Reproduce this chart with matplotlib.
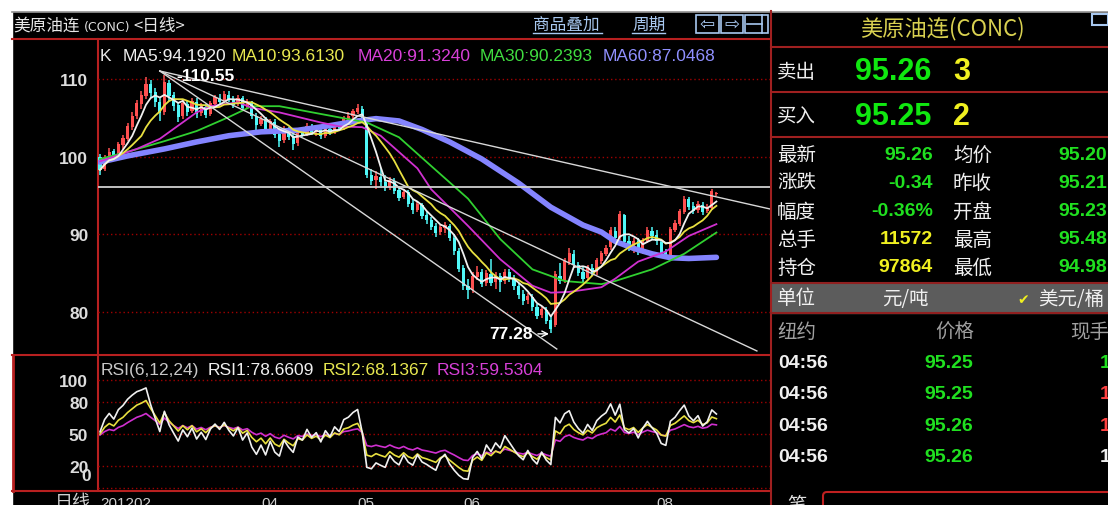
import numpy as np
import pandas as pd
import matplotlib
matplotlib.use('Agg')
import matplotlib.pyplot as plt
from matplotlib.patches import Rectangle, FancyBboxPatch

plt.rcParams['font.family'] = ['Liberation Sans', 'Noto Sans CJK SC', 'DejaVu Sans']

# ---------------- data ----------------
opens = [99.9, 98.4, 99.6, 100.7, 100.3, 101.5, 102.3, 103.8, 105.2, 106.8,
         107.8, 109.3, 108.3, 107.1, 105.7, 109.5, 107.9, 106.6, 105.2, 106.8,
         105.9, 107.1, 105.6, 106.4, 105.5, 106.8, 107.6, 107.2, 108.0, 107.4,
         106.8, 107.5, 106.4, 106.9, 105.2, 104.2, 104.8, 103.4, 104.5, 102.9,
         102.1, 103.5, 102.6, 101.7, 103.1, 102.9, 103.9, 103.2, 103.5, 102.7,
         103.6, 103.2, 104.0, 103.8, 104.9, 105.2, 105.8, 106.2, 104.7, 97.7,
         97.0, 97.4, 96.8, 96.1, 96.9, 95.7, 94.8, 95.4, 94.0, 93.2,
         93.8, 92.5, 91.9, 91.1, 90.3, 90.8, 91.1, 89.6, 87.9, 85.7,
         83.4, 82.9, 84.5, 85.1, 83.7, 84.9, 83.9, 84.6, 84.0, 85.1,
         84.4, 83.4, 82.3, 81.5, 82.0, 80.7, 79.6, 80.3, 79.0, 78.4,
         84.7, 84.1, 86.5, 87.5, 86.1, 85.1, 84.4, 85.7, 85.1, 86.6,
         87.5, 88.4, 90.5, 89.6, 92.5, 89.1, 88.5, 89.1, 87.8, 89.2,
         90.5, 89.9, 89.0, 87.7, 87.4, 90.6, 91.4, 92.9, 94.5, 93.6,
         93.1, 93.8, 93.0, 93.4, 95.23]
highs = [100.3, 100.2, 101.1, 101.0, 101.9, 102.8, 104.4, 105.8, 107.3, 108.4,
         110.2, 109.9, 108.9, 107.6, 110.55, 109.9, 108.3, 107.0, 107.4, 107.2,
         107.6, 107.5, 106.9, 106.8, 107.2, 108.0, 108.1, 108.5, 108.4, 107.8,
         108.0, 107.8, 107.4, 107.2, 105.6, 105.3, 105.1, 104.9, 104.8, 103.3,
         103.9, 103.8, 103.0, 103.5, 103.6, 104.3, 104.2, 103.9, 103.8, 104.0,
         104.0, 104.4, 104.5, 105.3, 105.7, 106.2, 106.8, 106.5, 105.0, 98.4,
         98.1, 98.6, 97.7, 97.4, 97.3, 96.2, 95.9, 95.7, 94.5, 94.2,
         94.1, 93.0, 92.3, 91.5, 91.2, 91.6, 91.4, 90.0, 88.3, 86.1,
         84.2, 85.1, 85.9, 85.5, 85.4, 86.8, 85.1, 85.0, 85.6, 85.5,
         84.8, 83.8, 82.8, 82.5, 82.3, 81.1, 80.8, 80.6, 79.6, 85.3,
         86.3, 87.0, 88.2, 88.0, 86.5, 85.8, 86.1, 86.2, 87.0, 87.9,
         88.7, 90.9, 91.0, 93.0, 92.6, 89.8, 89.6, 89.5, 89.6, 91.0,
         90.9, 90.6, 89.4, 88.1, 91.0, 91.9, 93.3, 95.0, 94.8, 94.2,
         94.3, 94.2, 93.9, 95.9, 95.48]
lows = [97.6, 98.1, 99.3, 99.8, 100.0, 101.0, 102.0, 103.4, 104.8, 106.2,
        107.4, 107.6, 106.4, 104.6, 105.4, 107.2, 105.9, 104.5, 104.9, 105.3,
        105.6, 105.0, 105.2, 105.0, 105.2, 106.5, 106.7, 106.9, 107.0, 106.3,
        106.5, 105.9, 106.1, 104.9, 103.5, 103.9, 102.9, 103.1, 102.4, 101.2,
        101.8, 102.2, 100.8, 101.4, 102.5, 102.6, 102.8, 102.7, 102.3, 102.4,
        102.8, 102.9, 103.4, 103.5, 104.5, 104.9, 105.5, 104.5, 97.2, 96.4,
        95.9, 96.2, 95.6, 95.7, 95.2, 94.3, 94.5, 93.5, 92.6, 92.9,
        92.0, 91.3, 90.6, 89.7, 89.9, 90.2, 89.1, 87.4, 85.2, 82.9,
        81.7, 82.5, 84.1, 83.2, 83.4, 83.3, 83.0, 82.6, 83.6, 83.9,
        82.9, 81.7, 80.9, 81.1, 80.2, 79.1, 79.2, 78.5, 77.28, 78.1,
        83.6, 83.8, 86.0, 85.7, 84.6, 83.9, 84.1, 84.6, 84.8, 86.2,
        87.2, 88.0, 89.2, 89.3, 88.6, 87.9, 87.6, 87.3, 87.5, 88.9,
        89.4, 88.7, 87.2, 86.8, 87.1, 90.3, 91.1, 92.6, 93.1, 92.6,
        92.8, 92.5, 92.7, 93.2, 94.98]
closes = [98.3, 99.7, 100.6, 100.2, 101.6, 102.4, 103.9, 105.3, 106.9, 107.9,
          109.4, 108.2, 107.0, 105.6, 109.6, 107.8, 106.5, 105.1, 106.9, 105.8,
          107.2, 105.5, 106.5, 105.4, 106.9, 107.7, 107.1, 108.1, 107.3, 106.7,
          107.6, 106.3, 107.0, 105.3, 104.1, 104.9, 103.3, 104.6, 102.8, 102.0,
          103.6, 102.5, 101.6, 103.2, 102.8, 104.0, 103.1, 103.6, 102.6, 103.7,
          103.1, 104.1, 103.7, 105.0, 105.3, 105.9, 106.3, 104.8, 97.6, 96.9,
          97.5, 96.7, 96.0, 97.0, 95.6, 94.7, 95.5, 93.9, 93.1, 93.9,
          92.4, 91.8, 91.0, 90.2, 90.9, 91.2, 89.5, 87.8, 85.6, 83.3,
          82.8, 84.6, 85.2, 83.6, 85.0, 83.8, 84.7, 83.9, 85.2, 84.3,
          83.3, 82.2, 81.4, 82.1, 80.6, 79.5, 80.4, 78.9, 77.8, 84.9,
          84.0, 86.6, 87.6, 86.0, 85.0, 84.3, 85.8, 85.0, 86.7, 87.6,
          88.3, 90.6, 89.5, 92.6, 89.0, 88.4, 89.2, 87.7, 89.3, 90.6,
          89.8, 89.1, 87.6, 87.3, 90.7, 91.5, 93.0, 94.6, 93.5, 93.0,
          93.9, 92.9, 93.5, 95.6, 95.26]

ma20_idx = [0, 8, 13, 17, 21, 24, 30, 33, 39, 48, 52, 57, 61, 65, 69, 72, 80, 87, 94, 98, 102, 109, 112, 117, 123, 128, 134]
ma20_val = [99.4, 101.0, 102.3, 104.0, 105.7, 106.5, 107.0, 106.3, 105.7, 104.4, 103.9, 103.8, 102.7, 100.6, 98.5, 95.8, 91.1, 86.8, 83.4, 82.5, 82.6, 83.2, 84.3, 86.5, 87.8, 89.8, 91.32]
ma30_idx = [0, 7, 14, 21, 28, 33, 39, 48, 58, 65, 72, 80, 87, 94, 101, 109, 112, 120, 127, 134]
ma30_val = [99.7, 100.8, 102.0, 103.3, 105.1, 106.5, 106.5, 105.5, 104.4, 102.5, 98.8, 94.6, 89.4, 85.5, 84.0, 83.6, 84.0, 85.5, 87.5, 90.24]
ma60_idx = [0, 6, 14, 21, 28, 35, 43, 50, 56, 60, 65, 70, 76, 83, 91, 98, 105, 109, 112, 116, 120, 124, 128, 134]
ma60_val = [99.3, 100.1, 101.0, 101.9, 102.7, 103.2, 103.4, 104.0, 104.6, 104.9, 104.6, 103.5, 101.9, 99.7, 96.6, 93.5, 91.2, 90.3, 89.1, 88.2, 87.5, 87.0, 86.9, 87.05]

rsi_periods = [6, 12, 24]
rsi_first = [52, 50, 49]

date_ticks = [0, 35, 56, 79, 121]
date_labels = ['201202', '04', '05', '06', '08']
price_ticks = [80, 90, 100, 110]
rsi_ticks = [20, 50, 80, 100]

header_ma = [('K', '#e8e8e8'), ('MA5:94.1920', '#f0f0f0'), ('MA10:93.6130', '#e8e850'),
             ('MA20:91.3240', '#d840d8'), ('MA30:90.2393', '#40dc40'), ('MA60:87.0468', '#9090ff')]
header_rsi = [('RSI(6,12,24)', '#c8c8c8'), ('RSI1:78.6609', '#f0f0f0'),
              ('RSI2:68.1367', '#e8e850'), ('RSI3:59.5304', '#d840d8')]

quote_rows = [('最新', '95.26', '#20e020', '均价', '95.20'),
              ('涨跌', '-0.34', '#20e020', '昨收', '95.21'),
              ('幅度', '-0.36%', '#20e020', '开盘', '95.23'),
              ('总手', '11572', '#f0f020', '最高', '95.48'),
              ('持仓', '97864', '#f0f020', '最低', '94.98')]
trade_times = ['04:56', '04:56', '04:56', '04:56']
trade_prices = ['95.25', '95.25', '95.26', '95.26']
trade_vols = ['1', '1', '1', '1']
trade_vol_colors = ['#20e020', '#ff4040', '#ff4040', '#f0f0f0']

# ---------------- figure ----------------
W, H = 1108, 506
fig = plt.figure(figsize=(W / 100, H / 100), dpi=100, facecolor='black')
bg = fig.add_axes([0, 0, 1, 1])
bg.set_xlim(0, W)
bg.set_ylim(H, 0)
bg.axis('off')
bg.set_facecolor('black')

RED = '#b82020'
bg.add_patch(Rectangle((0, 0), W, 12, color='white', zorder=1))
bg.add_patch(Rectangle((0, 0), 12, H, color='white', zorder=1))
bg.plot([12, W], [12.5, 12.5], color='#909090', lw=1.2)

# frame lines
bg.plot([12, 770], [40, 40], color=RED, lw=1.5)
bg.plot([98, 98], [40, 491], color=RED, lw=1.5)
bg.plot([12, 770], [356, 356], color=RED, lw=1.5)
bg.plot([12, 770], [491.5, 491.5], color=RED, lw=1.5)
bg.plot([13, 13], [356, 491.5], color=RED, lw=2)
bg.plot([770.5, 770.5], [12, H], color='#a02020', lw=1.5)

# title bar
CJK = ['Noto Sans CJK SC', 'DejaVu Sans']
bg.text(13, 26, '美原油连', color='#e8e8e8', fontsize=12, va='center', ha='left', family=CJK)
bg.text(84, 27, '(CONC)', color='#e0e0e0', fontsize=9, va='center', ha='left', family=['DejaVu Sans'])
bg.text(133, 26, '<日线>', color='#e8e8e8', fontsize=12, va='center', ha='left', family=CJK)
LB = '#a8c8f0'
bg.text(533, 25, '商品叠加', color=LB, fontsize=12, va='center', ha='left', family=CJK)
bg.plot([533, 602], [34, 34], color=LB, lw=1)
bg.text(632, 25, '周期', color=LB, fontsize=12, va='center', ha='left', family=CJK)
bg.plot([632, 665], [34, 34], color=LB, lw=1)
for x0, w0 in [(696, 23), (721, 22), (745, 23)]:
    bg.add_patch(Rectangle((x0, 16), w0, 18, fill=False, edgecolor=LB, lw=1.2))
bg.text(707.5, 25, '⇦', color=LB, fontsize=13, ha='center', va='center', family=['DejaVu Sans'])
bg.text(732, 25, '⇨', color=LB, fontsize=13, ha='center', va='center', family=['DejaVu Sans'])
bg.plot([747, 762], [25, 25], color=LB, lw=1.2)
bg.plot([762, 762], [16, 34], color=LB, lw=1.2)

# ---------------- main price axes ----------------
XL = (-0.435, 145.65)
ax = fig.add_axes([98 / W, 1 - 354 / H, 672 / W, 313 / H])
ax.set_facecolor('none')
ax.set_xlim(*XL)
ax.set_ylim(110 - (354 - 80) / 7.77, 110 + (80 - 41) / 7.77)
for s in ax.spines.values():
    s.set_visible(False)
ax.set_xticks([])
ax.set_yticks(price_ticks)
ax.set_yticklabels([str(t) for t in price_ticks], color='#dcdcdc', fontsize=12.5, fontweight='bold')
ax.tick_params(axis='y', length=0, pad=7)
for t in price_ticks:
    ax.axhline(t, color='#a00000', lw=1, ls=(0, (1, 2)), zorder=0)

idx = np.arange(len(closes))
o = np.array(opens); c = np.array(closes)
hi = np.array(highs); lo = np.array(lows)
upc = c >= o
cols = np.where(upc, '#ff5050', '#50f8f8')
ax.vlines(idx, lo, hi, colors=cols, lw=1.1, zorder=2)
ax.bar(idx, np.maximum(np.abs(c - o), 0.12), bottom=np.minimum(o, c), width=0.72,
       color=cols, linewidth=0, zorder=2)

ma5 = pd.Series(closes).rolling(5, min_periods=1).mean()
ma10 = pd.Series(closes).rolling(10, min_periods=1).mean()
ax.plot(ma60_idx, ma60_val, color='#8484ff', lw=4, zorder=3, solid_capstyle='round')
ax.plot(ma30_idx, ma30_val, color='#30d030', lw=1.3, zorder=4)
ax.plot(ma20_idx, ma20_val, color='#d030d0', lw=1.3, zorder=4)
ax.plot(idx, ma10, color='#e8e040', lw=1.3, zorder=4)
ax.plot(idx, ma5, color='#f0f0f0', lw=1.3, zorder=5)

# drawn trend lines and level
peak_pt = (13.0, 111.03)
for end in [(145.65, 93.27), (142.8, 75.0), (99.3, 75.25)]:
    ax.plot([peak_pt[0], end[0]], [peak_pt[1], end[1]], color='#d8d8d8', lw=1, zorder=6)
ax.axhline(96.1, color='#d0d0d0', lw=1.3, zorder=6)

ax.text(16.7, 110.5, '-110.55', color='white', fontsize=12.5, fontweight='bold', va='center', ha='left', zorder=7)
ax.text(94.0, 77.2, '77.28', color='white', fontsize=12.5, fontweight='bold', va='center', ha='right', zorder=7)
ax.annotate('', xy=(98.2, 77.2), xytext=(94.6, 77.2),
            arrowprops=dict(arrowstyle='->', color='white', lw=1), zorder=7)

xpos = [100, 123, 232, 358, 480, 603]
for (txt, col), xp in zip(header_ma, xpos):
    ax.text((xp - 100) / 4.6, 110 + (80 - 56) / 7.77, txt, color=col, fontsize=12.5,
            va='center', ha='left', zorder=8)

# ---------------- RSI axes ----------------
ar = fig.add_axes([98 / W, 1 - 491 / H, 672 / W, 135 / H])
ar.set_facecolor('none')
ar.set_xlim(*XL)
ar.set_ylim((489 - 491) / 1.08, (489 - 356) / 1.08)
for s in ar.spines.values():
    s.set_visible(False)
ar.set_yticks(rsi_ticks)
ar.set_yticklabels([str(t) for t in rsi_ticks], color='#dcdcdc', fontsize=12.5, fontweight='bold')
ar.tick_params(axis='y', length=0, pad=7)
ar.text(-1.95, (489 - 477) / 1.08, '0', color='#dcdcdc', fontsize=12.5, fontweight='bold',
        ha='right', va='center')
for t in [0] + rsi_ticks:
    ar.axhline(t, color='#a00000', lw=1, ls=(0, (1, 2)), zorder=0)
ar.set_xticks(date_ticks)
ar.set_xticklabels(date_labels, color='#d0d0d0', fontsize=11, ha='left')
ar.tick_params(axis='x', length=0, pad=4)


def rsi_calc(vals, n, first):
    up = first / 100 * 0.9
    ab = 0.9
    out = [first]
    for k in range(1, len(vals)):
        d = vals[k] - vals[k - 1]
        up = (max(d, 0) + (n - 1) * up) / n
        ab = (abs(d) + (n - 1) * ab) / n
        out.append(100 * up / ab)
    return out


rsi_cols = ['#f0f0f0', '#e8e040', '#d030d0']
for n, f0, col, z in zip(rsi_periods, rsi_first, rsi_cols, [5, 4, 3]):
    ar.plot(idx, rsi_calc(closes, n, f0), color=col, lw=1.2, zorder=z)

rx = [101, 208, 323, 437]
for (txt, col), xp in zip(header_rsi, rx):
    ar.text((xp - 100) / 4.6, (489 - 371) / 1.08, txt, color=col, fontsize=12.5,
            va='center', ha='left')

bg.text(55, 494, '日线', color='#d0d0d0', fontsize=13, va='top', ha='left', family=CJK)

# ---------------- right quote panel ----------------
bg.text(942, 29, '美原油连(CONC)', color='#d8d050', fontsize=16, va='center', ha='center', family=CJK)
bg.add_patch(Rectangle((1092, 15), 16, 11, fill=False, edgecolor=LB, lw=1.5))
for yy in [48, 93, 138]:
    bg.plot([771, W], [yy, yy], color='#a02020', lw=1.5)

for lab, price, qty, yy in [('卖出', '95.26', '3', 72), ('买入', '95.25', '2', 117)]:
    bg.text(777, yy, lab, color='#f0f0f0', fontsize=14, va='center', ha='left', family=CJK)
    bg.text(855, yy, price, color='#10e810', fontsize=22, fontweight='bold', va='center', ha='left')
    bg.text(953, yy, qty, color='#f0f020', fontsize=22, fontweight='bold', va='center', ha='left')

row_y = [155, 183, 212, 240, 268]
for (l1, v1, c1, l2, v2), yy in zip(quote_rows, row_y):
    bg.text(777, yy, l1, color='#f0f0f0', fontsize=14, va='center', ha='left', family=CJK)
    bg.text(933, yy, v1, color=c1, fontsize=14, fontweight='bold', va='center', ha='right')
    bg.text(953, yy, l2, color='#f0f0f0', fontsize=14, va='center', ha='left', family=CJK)
    bg.text(1058, yy, v2, color='#20e020', fontsize=14, fontweight='bold', va='center', ha='left')

bg.add_patch(Rectangle((771, 284), W - 771, 30, color='#5c5c5c', zorder=1))
bg.plot([771, W], [284, 284], color='#902020', lw=1.5, zorder=2)
bg.plot([771, W], [314, 314], color='#902020', lw=1.5, zorder=2)
bg.text(777, 299, '单位', color='#f0f0f0', fontsize=14, va='center', ha='left', family=CJK, zorder=3)
bg.text(882, 299, '元/吨', color='#f0f0f0', fontsize=14, va='center', ha='left', family=CJK, zorder=3)
bg.text(1017, 300, '✔', color='#f0f020', fontsize=10, va='center', ha='left', family=['DejaVu Sans'], zorder=3)
bg.text(1038, 299, '美元/桶', color='#f0f0f0', fontsize=14, va='center', ha='left', family=CJK, zorder=3)

bg.text(777, 332, '纽约', color='#a0a0a0', fontsize=14, va='center', ha='left', family=CJK)
bg.text(935, 332, '价格', color='#a0a0a0', fontsize=14, va='center', ha='left', family=CJK)
bg.text(1070, 332, '现手', color='#a0a0a0', fontsize=14, va='center', ha='left', family=CJK)
trade_y = [363, 395, 427, 458]
for t, p, v, vc, yy in zip(trade_times, trade_prices, trade_vols, trade_vol_colors, trade_y):
    bg.text(778, yy, t, color='#f0f0f0', fontsize=14, fontweight='bold', va='center', ha='left')
    bg.text(949, yy, p, color='#20e020', fontsize=14, fontweight='bold', va='center', ha='center')
    bg.text(1100, yy, v, color=vc, fontsize=14, fontweight='bold', va='center', ha='left')

bg.text(787, 495, '笔', color='#e0e0e0', fontsize=14, va='top', ha='left', family=CJK)
bg.add_patch(FancyBboxPatch((823, 493), 320, 30, boxstyle='round,pad=0,rounding_size=4',
                            fill=False, edgecolor='#c02020', lw=1.5))

fig.savefig('out.png', dpi=100, facecolor='black')
